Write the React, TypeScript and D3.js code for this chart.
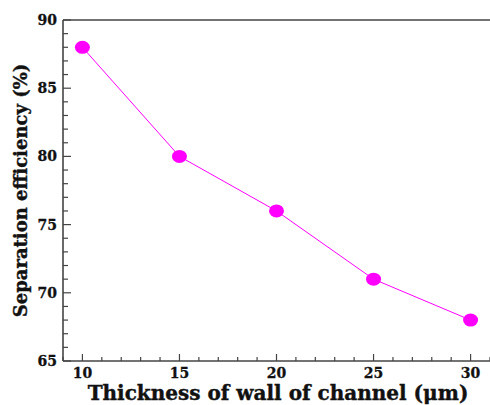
import React from "react";
import * as d3 from "d3";

const thickness = [10, 15, 20, 25, 30];
const efficiency = [88, 80, 76, 71, 68];
const xTicks = [10, 15, 20, 25, 30];
const yTicks = [65, 70, 75, 80, 85, 90];

const W = 490;
const H = 405;
const left = 63;
const right = 490;
const top = 20;
const bottom = 361;
const axisColor = "#444";
const font = "'DejaVu Serif', serif";

export default function App() {
  const x = d3.scaleLinear().domain([9, 31]).range([left, right]);
  const y = d3.scaleLinear().domain([65, 90]).range([bottom, top]);
  const line = d3
    .line<number>()
    .x((_, i) => x(thickness[i]))
    .y((d) => y(d));

  const xMinor = d3.range(9, 32, 1).filter((v) => v % 5 !== 0);
  const yMinor = d3.range(66, 90, 1).filter((v) => v % 5 !== 0);

  return (
    <svg
      width={W}
      height={H}
      style={{ position: "absolute", left: 0, top: 0, background: "#fff" }}
    >
      {/* frame */}
      <line x1={left} x2={right} y1={top} y2={top} stroke={axisColor} strokeWidth={1.6} />
      <line x1={left} x2={left} y1={top} y2={bottom} stroke={axisColor} strokeWidth={1.6} />
      <line x1={left} x2={right} y1={bottom} y2={bottom} stroke={axisColor} strokeWidth={1.6} />

      {/* x ticks */}
      {xTicks.map((t) => (
        <g key={"xt" + t}>
          <line x1={x(t)} x2={x(t)} y1={bottom} y2={bottom - 7} stroke={axisColor} strokeWidth={1.2} />
          <text
            x={x(t)}
            y={bottom + 17}
            textAnchor="middle"
            fontFamily={font}
            fontWeight="bold"
            fontSize={14}
            fill="#111"
            stroke="#111"
            strokeWidth={0.3}
          >
            {t}
          </text>
        </g>
      ))}
      {xMinor.map((t) => (
        <line key={"xm" + t} x1={x(t)} x2={x(t)} y1={bottom} y2={bottom - 4} stroke={axisColor} strokeWidth={1.2} />
      ))}

      {/* y ticks */}
      {yTicks.map((t) => (
        <g key={"yt" + t}>
          <line x1={left} x2={left + 8} y1={y(t)} y2={y(t)} stroke={axisColor} strokeWidth={1.2} />
          <text
            x={left - 6}
            y={y(t) + 5}
            textAnchor="end"
            fontFamily={font}
            fontWeight="bold"
            fontSize={14}
            fill="#111"
            stroke="#111"
            strokeWidth={0.3}
          >
            {t}
          </text>
        </g>
      ))}
      {yMinor.map((t) => (
        <line key={"ym" + t} x1={left} x2={left + 5} y1={y(t)} y2={y(t)} stroke={axisColor} strokeWidth={1.2} />
      ))}

      {/* series */}
      <path d={line(efficiency) ?? ""} fill="none" stroke="#ff00ff" strokeWidth={1} />
      {efficiency.map((v, i) => (
        <ellipse key={"p" + i} cx={x(thickness[i])} cy={y(v)} rx={7.5} ry={6.5} fill="#ff00ff" />
      ))}

      {/* axis titles */}
      <text
        x={278}
        y={400}
        textAnchor="middle"
        fontFamily={font}
        fontWeight="bold"
        fontSize={20}
        fill="#111"
        stroke="#111"
        strokeWidth={0.4}
      >
        Thickness of wall of channel (μm)
      </text>
      <text
        transform={`translate(27, ${(top + bottom) / 2 - 0}) rotate(-90)`}
        textAnchor="middle"
        fontFamily={font}
        fontWeight="bold"
        fontSize={18}
        fill="#111"
        stroke="#111"
        strokeWidth={0.4}
      >
        Separation efficiency (%)
      </text>
    </svg>
  );
}
